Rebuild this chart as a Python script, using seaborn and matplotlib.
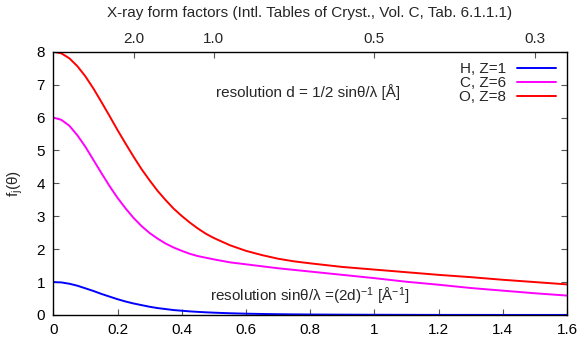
import matplotlib
matplotlib.use("Agg")
import matplotlib.pyplot as plt
import seaborn as sns
import pandas as pd

# sin(theta)/lambda values [1/Angstrom]
s_vals = [0.0, 0.025, 0.05, 0.075, 0.1, 0.125, 0.15, 0.175, 0.2, 0.225, 0.25, 0.275,
          0.3, 0.325, 0.35, 0.375, 0.4, 0.425, 0.45, 0.475, 0.5, 0.55, 0.6, 0.65,
          0.7, 0.75, 0.8, 0.9, 1.0, 1.1, 1.2, 1.3, 1.4, 1.5, 1.6]

f_H = [1.00, 0.99, 0.95, 0.89, 0.81, 0.73, 0.64, 0.56, 0.48, 0.41, 0.35, 0.30,
       0.25, 0.21, 0.18, 0.15, 0.13, 0.11, 0.095, 0.082, 0.071, 0.053, 0.040, 0.031,
       0.024, 0.019, 0.015, 0.010, 0.007, 0.005, 0.003, 0.003, 0.002, 0.002, 0.002]
f_C = [6.00, 5.93, 5.75, 5.46, 5.11, 4.71, 4.31, 3.92, 3.56, 3.24, 2.95, 2.70,
       2.49, 2.32, 2.17, 2.05, 1.95, 1.86, 1.79, 1.74, 1.69, 1.60, 1.54, 1.48,
       1.42, 1.37, 1.32, 1.22, 1.12, 1.01, 0.92, 0.82, 0.74, 0.66, 0.59]
f_O = [8.00, 7.95, 7.80, 7.56, 7.25, 6.88, 6.47, 6.05, 5.62, 5.21, 4.81, 4.43,
       4.09, 3.77, 3.49, 3.23, 3.01, 2.81, 2.63, 2.47, 2.34, 2.12, 1.95, 1.82,
       1.71, 1.63, 1.57, 1.46, 1.38, 1.30, 1.22, 1.15, 1.07, 1.00, 0.93]

series_labels = ["H, Z=1", "C, Z=6", "O, Z=8"]
series_colors = ["#0000ff", "#ff00ff", "#ff0000"]

x_ticks = [0, 0.2, 0.4, 0.6, 0.8, 1.0, 1.2, 1.4, 1.6]
x_ticklabels = ["0", "0.2", "0.4", "0.6", "0.8", "1", "1.2", "1.4", "1.6"]
y_ticks = [0, 1, 2, 3, 4, 5, 6, 7, 8]
top_ticks = [0.25, 0.5, 1.0, 1.5]
top_ticklabels = ["2.0", "1.0", "0.5", "0.3"]

title = "X-ray form factors (Intl. Tables of Cryst., Vol. C, Tab. 6.1.1.1)"

FS = 11

sns.set_theme(style="ticks")
plt.rcParams["font.family"] = ["Liberation Sans", "DejaVu Sans"]
plt.rcParams["mathtext.fontset"] = "custom"
plt.rcParams["mathtext.rm"] = "Liberation Sans"
plt.rcParams["mathtext.it"] = "Liberation Sans:italic"
plt.rcParams["mathtext.default"] = "regular"

rows = []
for lab, vals in zip(series_labels, [f_H, f_C, f_O]):
    for s, f in zip(s_vals, vals):
        rows.append({"s": s, "f": f, "element": lab})
df = pd.DataFrame(rows)

fig = plt.figure(figsize=(5.81, 3.37), dpi=100)
ax = fig.add_axes([53.3 / 581, 1 - 315 / 337, (567 - 53.3) / 581, (315 - 51.7) / 337])

sns.lineplot(data=df, x="s", y="f", hue="element", hue_order=series_labels,
             palette=dict(zip(series_labels, series_colors)), estimator=None,
             linewidth=1.4, ax=ax, legend=False)

ax.set_xlim(0, 1.6)
ax.set_ylim(0, 8)
ax.set_xticks(x_ticks)
ax.set_xticklabels(x_ticklabels)
ax.set_yticks(y_ticks)
ax.set_xlabel("")
ax.set_ylabel("f$_j$(θ)", fontsize=FS, labelpad=8)

for sp in ax.spines.values():
    sp.set_visible(True)
    sp.set_color("black")
    sp.set_linewidth(1.0)

ax.tick_params(axis="both", direction="in", length=4, width=0.8, color="#555555",
               labelsize=FS, labelcolor="black", pad=6)
ax.tick_params(axis="y", right=True, labelright=False)
ax.tick_params(axis="x", top=False)

sec = ax.secondary_xaxis("top")
sec.set_xticks(top_ticks)
sec.set_xticklabels(top_ticklabels)
sec.tick_params(direction="in", length=4, width=0.8, color="#555555", labelsize=FS, pad=4)
sec.spines["top"].set_visible(False)

fig.text(310 / 581, 1 - 13.3 / 337, title, ha="center", va="center", fontsize=FS)

ax.text(0.507, 6.78, "resolution d = 1/2 sinθ/λ [Å]", ha="left", va="center", fontsize=FS)
ax.text(0.488, 0.56, "resolution sinθ/λ =(2d)$^{-1}$ [Å$^{-1}$]", ha="left", va="center", fontsize=FS)

handles = [plt.Line2D([], [], color=c, linewidth=1.4) for c in series_colors]
ax.legend(handles, series_labels, loc="upper right", bbox_to_anchor=(1, 1),
          frameon=False, markerfirst=False, fontsize=FS, handlelength=2.6,
          handletextpad=0.7, labelspacing=0.0, borderaxespad=0.5, borderpad=0.2)

fig.savefig("out.png", dpi=100)
